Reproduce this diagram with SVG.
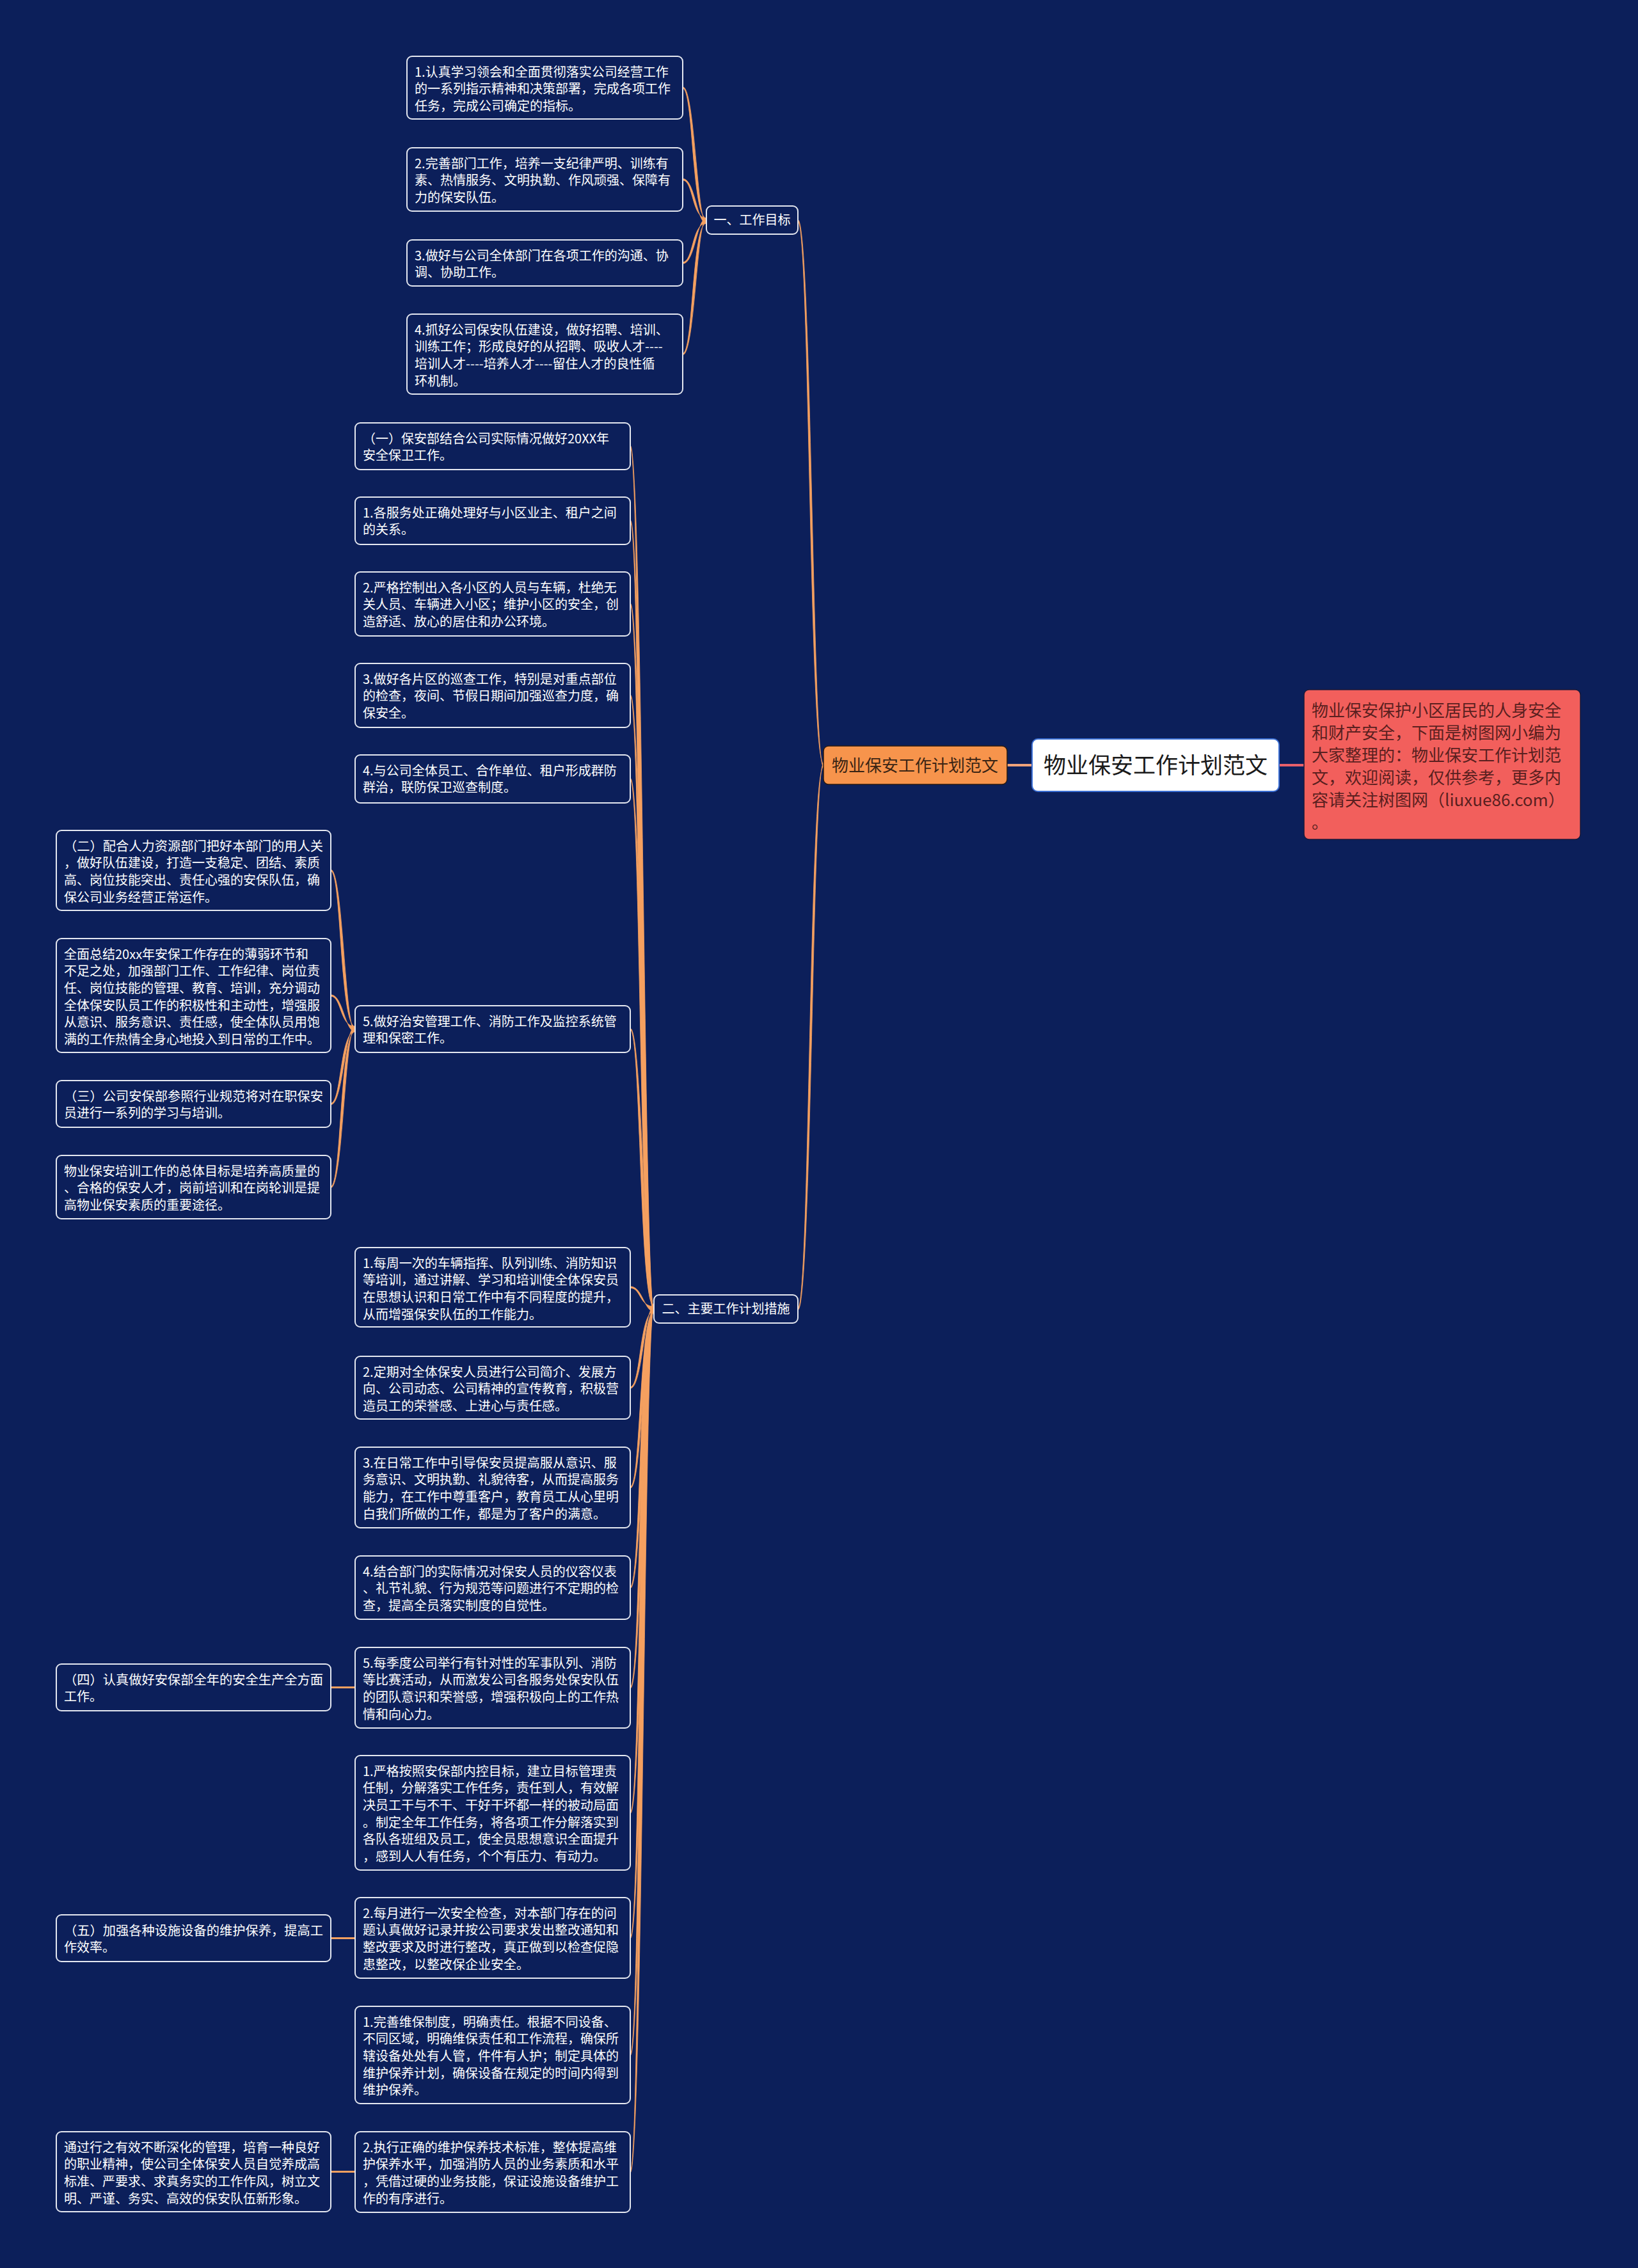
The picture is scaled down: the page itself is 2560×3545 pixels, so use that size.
<svg xmlns="http://www.w3.org/2000/svg" width="2560" height="3545" viewBox="0 0 2560 3545">
<style>
.n{fill:#0c1f5a;stroke:#e4e7f0;stroke-width:2}
.t{font-family:"Noto Sans CJK SC","Noto Sans",sans-serif;font-size:20px;fill:#ffffff}
.c{fill:#f5a060;stroke:#f5a060;stroke-width:0.8}
.s{fill:none;stroke:#f5a060;stroke-width:3}
</style>
<rect x="0" y="0" width="2560" height="3545" fill="#0c1f5a"/>
<g id="connectors">
<path class="c" d="M1287,1198.5 C1269.5,1198.5 1268.5,343.5 1247,343.5 L1247,346.5 C1265.5,346.5 1264.5,1193.5 1287,1193.5 Z"/>
<path class="c" d="M1287,1193.5 C1269.5,1193.5 1268.5,2047.5 1247,2047.5 L1247,2044.5 C1265.5,2044.5 1264.5,1198.5 1287,1198.5 Z"/>
<path class="c" d="M1104,349 C1089,349 1086.2,135.8 1067,135.8 L1067,138.2 C1083.8,138.2 1081,341 1104,341 Z"/>
<path class="c" d="M1104,349 C1089,349 1086.2,279.3 1067,279.3 L1067,281.7 C1083.8,281.7 1081,341 1104,341 Z"/>
<path class="c" d="M1104,341 C1089,341 1086.2,412.2 1067,412.2 L1067,409.8 C1083.8,409.8 1081,349 1104,349 Z"/>
<path class="c" d="M1104,341 C1089,341 1086.2,554.7 1067,554.7 L1067,552.3 C1083.8,552.3 1081,349 1104,349 Z"/>
<path class="c" d="M1022,2050 C1007,2050 1004.2,696.3 985,696.3 L985,698.7 C1001.8,698.7 999,2042 1022,2042 Z"/>
<path class="c" d="M1022,2050 C1007,2050 1004.2,812.8 985,812.8 L985,815.2 C1001.8,815.2 999,2042 1022,2042 Z"/>
<path class="c" d="M1022,2050 C1007,2050 1004.2,942.8 985,942.8 L985,945.2 C1001.8,945.2 999,2042 1022,2042 Z"/>
<path class="c" d="M1022,2050 C1007,2050 1004.2,1085.8 985,1085.8 L985,1088.2 C1001.8,1088.2 999,2042 1022,2042 Z"/>
<path class="c" d="M1022,2050 C1007,2050 1004.2,1216.3 985,1216.3 L985,1218.7 C1001.8,1218.7 999,2042 1022,2042 Z"/>
<path class="c" d="M1022,2050 C1007,2050 1004.2,1607.3 985,1607.3 L985,1609.7 C1001.8,1609.7 999,2042 1022,2042 Z"/>
<path class="c" d="M1022,2050 C1007,2050 1004.2,2010.8 985,2010.8 L985,2013.2 C1001.8,2013.2 999,2042 1022,2042 Z"/>
<path class="c" d="M1022,2042 C1007,2042 1004.2,2170.2 985,2170.2 L985,2167.8 C1001.8,2167.8 999,2050 1022,2050 Z"/>
<path class="c" d="M1022,2042 C1007,2042 1004.2,2326.2 985,2326.2 L985,2323.8 C1001.8,2323.8 999,2050 1022,2050 Z"/>
<path class="c" d="M1022,2042 C1007,2042 1004.2,2482.7 985,2482.7 L985,2480.3 C1001.8,2480.3 999,2050 1022,2050 Z"/>
<path class="c" d="M1022,2042 C1007,2042 1004.2,2639.2 985,2639.2 L985,2636.8 C1001.8,2636.8 999,2050 1022,2050 Z"/>
<path class="c" d="M1022,2042 C1007,2042 1004.2,2834.7 985,2834.7 L985,2832.3 C1001.8,2832.3 999,2050 1022,2050 Z"/>
<path class="c" d="M1022,2042 C1007,2042 1004.2,3030.2 985,3030.2 L985,3027.8 C1001.8,3027.8 999,2050 1022,2050 Z"/>
<path class="c" d="M1022,2042 C1007,2042 1004.2,3213.2 985,3213.2 L985,3210.8 C1001.8,3210.8 999,2050 1022,2050 Z"/>
<path class="c" d="M1022,2042 C1007,2042 1004.2,3396.2 985,3396.2 L985,3393.8 C1001.8,3393.8 999,2050 1022,2050 Z"/>
<path class="c" d="M555,1612.5 C539,1612.5 536.2,1359.3 517,1359.3 L517,1361.7 C533.8,1361.7 531,1604.5 555,1604.5 Z"/>
<path class="c" d="M555,1612.5 C539,1612.5 536.2,1554.8 517,1554.8 L517,1557.2 C533.8,1557.2 531,1604.5 555,1604.5 Z"/>
<path class="c" d="M555,1604.5 C539,1604.5 536.2,1726.7 517,1726.7 L517,1724.3 C533.8,1724.3 531,1612.5 555,1612.5 Z"/>
<path class="c" d="M555,1604.5 C539,1604.5 536.2,1856.7 517,1856.7 L517,1854.3 C533.8,1854.3 531,1612.5 555,1612.5 Z"/>
<path class="s" d="M517,2637.5 L555,2637.5"/>
<path class="s" d="M517,3029.5 L555,3029.5"/>
<path class="s" d="M517,3394.5 L555,3394.5"/>
<path d="M1574,1196 L1614,1196" stroke="#f0a27a" stroke-width="4" fill="none"/>
<path d="M1999,1196 L2038,1196" stroke="#e8606a" stroke-width="4" fill="none"/>
</g>
<g id="root">
<rect x="1613" y="1155" width="386" height="82" rx="9" fill="#ffffff" stroke="#3b6fd4" stroke-width="2"/>
<text x="1806" y="1209" text-anchor="middle" font-family="Noto Sans CJK SC, sans-serif" font-size="35" fill="#1a1a1a">物业保安工作计划范文</text>
</g>
<g id="summary">
<rect x="2038" y="1078" width="432" height="234" rx="8" fill="#f25f5c" stroke="#1a1a3a" stroke-width="1.5"/>
<text font-family="Noto Sans CJK SC, sans-serif" font-size="26" fill="#5a1f1f">
<tspan x="2050" y="1120">物业保安保护小区居民的人身安全</tspan>
<tspan x="2050" y="1155">和财产安全，下面是树图网小编为</tspan>
<tspan x="2050" y="1190">大家整理的：物业保安工作计划范</tspan>
<tspan x="2050" y="1225">文，欢迎阅读，仅供参考，更多内</tspan>
<tspan x="2050" y="1260">容请关注树图网（liuxue86.com）</tspan>
<tspan x="2050" y="1295">。</tspan>
</text>
</g>
<g id="branch-main">
<rect x="1287" y="1166" width="287" height="60" rx="8" fill="#f7944c" stroke="#2a1a10" stroke-width="1.5"/>
<text x="1430" y="1206" text-anchor="middle" font-family="Noto Sans CJK SC, sans-serif" font-size="26" fill="#3a2414">物业保安工作计划范文</text>
</g>
<g id="goal">
<rect class="n" x="1104" y="322" width="143" height="44" rx="8"/>
<text class="t" x="1175.5" y="351" text-anchor="middle">一、工作目标</text>
</g>
<g id="measures">
<rect class="n" x="1022" y="2024" width="225" height="44" rx="8"/>
<text class="t" x="1134.5" y="2053" text-anchor="middle">二、主要工作计划措施</text>
</g>
<g id="g1">
<rect class="n" x="636" y="88" width="431" height="98" rx="8"/>
<text class="t"><tspan x="648" y="119.5">1.认真学习领会和全面贯彻落实公司经营工作</tspan><tspan x="648" dy="26.7">的一系列指示精神和决策部署，完成各项工作</tspan><tspan x="648" dy="26.7">任务，完成公司确定的指标。</tspan></text>
</g>
<g id="g2">
<rect class="n" x="636" y="231" width="431" height="99" rx="8"/>
<text class="t"><tspan x="648" y="262.5">2.完善部门工作，培养一支纪律严明、训练有</tspan><tspan x="648" dy="26.7">素、热情服务、文明执勤、作风顽强、保障有</tspan><tspan x="648" dy="26.7">力的保安队伍。</tspan></text>
</g>
<g id="g3">
<rect class="n" x="636" y="375" width="431" height="72" rx="8"/>
<text class="t"><tspan x="648" y="406.5">3.做好与公司全体部门在各项工作的沟通、协</tspan><tspan x="648" dy="26.7">调、协助工作。</tspan></text>
</g>
<g id="g4">
<rect class="n" x="636" y="491" width="431" height="125" rx="8"/>
<text class="t"><tspan x="648" y="522.5">4.抓好公司保安队伍建设，做好招聘、培训、</tspan><tspan x="648" dy="26.7">训练工作；形成良好的从招聘、吸收人才----</tspan><tspan x="648" dy="26.7">培训人才----培养人才----留住人才的良性循</tspan><tspan x="648" dy="26.7">环机制。</tspan></text>
</g>
<g id="m0">
<rect class="n" x="555" y="661" width="430" height="73" rx="8"/>
<text class="t"><tspan x="567" y="692.5">（一）保安部结合公司实际情况做好20XX年</tspan><tspan x="567" dy="26.7">安全保卫工作。</tspan></text>
</g>
<g id="m1">
<rect class="n" x="555" y="777" width="430" height="74" rx="8"/>
<text class="t"><tspan x="567" y="808.5">1.各服务处正确处理好与小区业主、租户之间</tspan><tspan x="567" dy="26.7">的关系。</tspan></text>
</g>
<g id="m2">
<rect class="n" x="555" y="894" width="430" height="100" rx="8"/>
<text class="t"><tspan x="567" y="925.5">2.严格控制出入各小区的人员与车辆，杜绝无</tspan><tspan x="567" dy="26.7">关人员、车辆进入小区；维护小区的安全，创</tspan><tspan x="567" dy="26.7">造舒适、放心的居住和办公环境。</tspan></text>
</g>
<g id="m3">
<rect class="n" x="555" y="1037" width="430" height="100" rx="8"/>
<text class="t"><tspan x="567" y="1068.5">3.做好各片区的巡查工作，特别是对重点部位</tspan><tspan x="567" dy="26.7">的检查，夜间、节假日期间加强巡查力度，确</tspan><tspan x="567" dy="26.7">保安全。</tspan></text>
</g>
<g id="m4">
<rect class="n" x="555" y="1180" width="430" height="75" rx="8"/>
<text class="t"><tspan x="567" y="1211.5">4.与公司全体员工、合作单位、租户形成群防</tspan><tspan x="567" dy="26.7">群治，联防保卫巡查制度。</tspan></text>
</g>
<g id="m5">
<rect class="n" x="555" y="1572" width="430" height="73" rx="8"/>
<text class="t"><tspan x="567" y="1603.5">5.做好治安管理工作、消防工作及监控系统管</tspan><tspan x="567" dy="26.7">理和保密工作。</tspan></text>
</g>
<g id="l1">
<rect class="n" x="88" y="1298" width="429" height="125" rx="8"/>
<text class="t" x="100" y="1329.5" textLength="405" lengthAdjust="spacingAndGlyphs">（二）配合人力资源部门把好本部门的用人关</text>
<text class="t"><tspan x="100" y="1356.2">，做好队伍建设，打造一支稳定、团结、素质</tspan><tspan x="100" dy="26.7">高、岗位技能突出、责任心强的安保队伍，确</tspan><tspan x="100" dy="26.7">保公司业务经营正常运作。</tspan></text>
</g>
<g id="l2">
<rect class="n" x="88" y="1467" width="429" height="178" rx="8"/>
<text class="t"><tspan x="100" y="1498.5">全面总结20xx年安保工作存在的薄弱环节和</tspan><tspan x="100" dy="26.7">不足之处，加强部门工作、工作纪律、岗位责</tspan><tspan x="100" dy="26.7">任、岗位技能的管理、教育、培训，充分调动</tspan><tspan x="100" dy="26.7">全体保安队员工作的积极性和主动性，增强服</tspan><tspan x="100" dy="26.7">从意识、服务意识、责任感，使全体队员用饱</tspan><tspan x="100" dy="26.7">满的工作热情全身心地投入到日常的工作中。</tspan></text>
</g>
<g id="l3">
<rect class="n" x="88" y="1689" width="429" height="73" rx="8"/>
<text class="t" x="100" y="1720.5" textLength="405" lengthAdjust="spacingAndGlyphs">（三）公司安保部参照行业规范将对在职保安</text>
<text class="t" x="100" y="1747.2">员进行一系列的学习与培训。</text>
</g>
<g id="l4">
<rect class="n" x="88" y="1806" width="429" height="99" rx="8"/>
<text class="t"><tspan x="100" y="1837.5">物业保安培训工作的总体目标是培养高质量的</tspan><tspan x="100" dy="26.7">、合格的保安人才，岗前培训和在岗轮训是提</tspan><tspan x="100" dy="26.7">高物业保安素质的重要途径。</tspan></text>
</g>
<g id="m6">
<rect class="n" x="555" y="1950" width="430" height="124" rx="8"/>
<text class="t"><tspan x="567" y="1981.5">1.每周一次的车辆指挥、队列训练、消防知识</tspan><tspan x="567" dy="26.7">等培训，通过讲解、学习和培训使全体保安员</tspan><tspan x="567" dy="26.7">在思想认识和日常工作中有不同程度的提升，</tspan><tspan x="567" dy="26.7">从而增强保安队伍的工作能力。</tspan></text>
</g>
<g id="m7">
<rect class="n" x="555" y="2120" width="430" height="98" rx="8"/>
<text class="t"><tspan x="567" y="2151.5">2.定期对全体保安人员进行公司简介、发展方</tspan><tspan x="567" dy="26.7">向、公司动态、公司精神的宣传教育，积极营</tspan><tspan x="567" dy="26.7">造员工的荣誉感、上进心与责任感。</tspan></text>
</g>
<g id="m8">
<rect class="n" x="555" y="2262" width="430" height="126" rx="8"/>
<text class="t"><tspan x="567" y="2293.5">3.在日常工作中引导保安员提高服从意识、服</tspan><tspan x="567" dy="26.7">务意识、文明执勤、礼貌待客，从而提高服务</tspan><tspan x="567" dy="26.7">能力，在工作中尊重客户，教育员工从心里明</tspan><tspan x="567" dy="26.7">白我们所做的工作，都是为了客户的满意。</tspan></text>
</g>
<g id="m9">
<rect class="n" x="555" y="2432" width="430" height="99" rx="8"/>
<text class="t"><tspan x="567" y="2463.5">4.结合部门的实际情况对保安人员的仪容仪表</tspan><tspan x="567" dy="26.7">、礼节礼貌、行为规范等问题进行不定期的检</tspan><tspan x="567" dy="26.7">查，提高全员落实制度的自觉性。</tspan></text>
</g>
<g id="m10">
<rect class="n" x="555" y="2575" width="430" height="126" rx="8"/>
<text class="t"><tspan x="567" y="2606.5">5.每季度公司举行有针对性的军事队列、消防</tspan><tspan x="567" dy="26.7">等比赛活动，从而激发公司各服务处保安队伍</tspan><tspan x="567" dy="26.7">的团队意识和荣誉感，增强积极向上的工作热</tspan><tspan x="567" dy="26.7">情和向心力。</tspan></text>
</g>
<g id="m11">
<rect class="n" x="555" y="2744" width="430" height="179" rx="8"/>
<text class="t"><tspan x="567" y="2775.5">1.严格按照安保部内控目标，建立目标管理责</tspan><tspan x="567" dy="26.7">任制，分解落实工作任务，责任到人，有效解</tspan><tspan x="567" dy="26.7">决员工干与不干、干好干坏都一样的被动局面</tspan><tspan x="567" dy="26.7">。制定全年工作任务，将各项工作分解落实到</tspan><tspan x="567" dy="26.7">各队各班组及员工，使全员思想意识全面提升</tspan><tspan x="567" dy="26.7">，感到人人有任务，个个有压力、有动力。</tspan></text>
</g>
<g id="m12">
<rect class="n" x="555" y="2966" width="430" height="126" rx="8"/>
<text class="t"><tspan x="567" y="2997.5">2.每月进行一次安全检查，对本部门存在的问</tspan><tspan x="567" dy="26.7">题认真做好记录并按公司要求发出整改通知和</tspan><tspan x="567" dy="26.7">整改要求及时进行整改，真正做到以检查促隐</tspan><tspan x="567" dy="26.7">患整改，以整改保企业安全。</tspan></text>
</g>
<g id="m13">
<rect class="n" x="555" y="3136" width="430" height="152" rx="8"/>
<text class="t"><tspan x="567" y="3167.5">1.完善维保制度，明确责任。根据不同设备、</tspan><tspan x="567" dy="26.7">不同区域，明确维保责任和工作流程，确保所</tspan><tspan x="567" dy="26.7">辖设备处处有人管，件件有人护；制定具体的</tspan><tspan x="567" dy="26.7">维护保养计划，确保设备在规定的时间内得到</tspan><tspan x="567" dy="26.7">维护保养。</tspan></text>
</g>
<g id="m14">
<rect class="n" x="555" y="3332" width="430" height="126" rx="8"/>
<text class="t"><tspan x="567" y="3363.5">2.执行正确的维护保养技术标准，整体提高维</tspan><tspan x="567" dy="26.7">护保养水平，加强消防人员的业务素质和水平</tspan><tspan x="567" dy="26.7">，凭借过硬的业务技能，保证设施设备维护工</tspan><tspan x="567" dy="26.7">作的有序进行。</tspan></text>
</g>
<g id="l5">
<rect class="n" x="88" y="2601" width="429" height="73" rx="8"/>
<text class="t" x="100" y="2632.5" textLength="405" lengthAdjust="spacingAndGlyphs">（四）认真做好安保部全年的安全生产全方面</text>
<text class="t" x="100" y="2659.2">工作。</text>
</g>
<g id="l6">
<rect class="n" x="88" y="2993" width="429" height="73" rx="8"/>
<text class="t" x="100" y="3024.5" textLength="405" lengthAdjust="spacingAndGlyphs">（五）加强各种设施设备的维护保养，提高工</text>
<text class="t" x="100" y="3051.2">作效率。</text>
</g>
<g id="l7">
<rect class="n" x="88" y="3332" width="429" height="125" rx="8"/>
<text class="t"><tspan x="100" y="3363.5">通过行之有效不断深化的管理，培育一种良好</tspan><tspan x="100" dy="26.7">的职业精神，使公司全体保安人员自觉养成高</tspan><tspan x="100" dy="26.7">标准、严要求、求真务实的工作作风，树立文</tspan><tspan x="100" dy="26.7">明、严谨、务实、高效的保安队伍新形象。</tspan></text>
</g>
</svg>
